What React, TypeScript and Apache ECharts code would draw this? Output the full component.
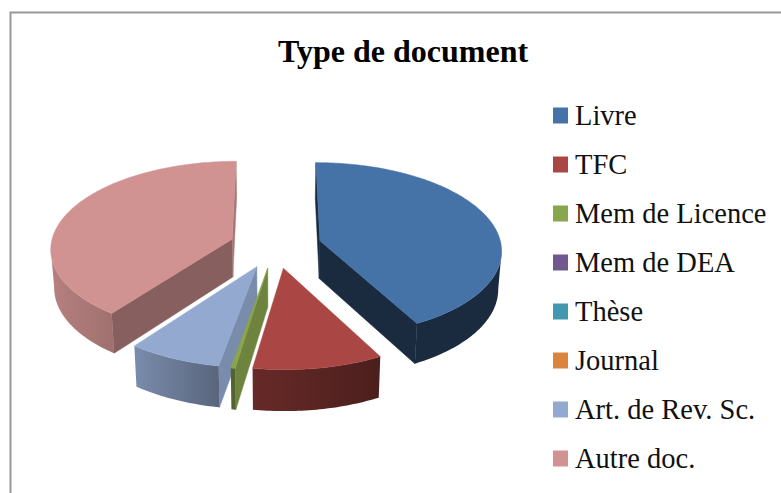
import React, { useEffect, useRef } from "react";
import * as echarts from "echarts";

const titleText = "Type de document";
const categories = ["Livre", "TFC", "Mem de Licence", "Mem de DEA", "Thèse", "Journal", "Art. de Rev. Sc.", "Autre doc."];
const values = [42.2, 10.25, 0.35, 0, 0, 0, 7.4, 39.8];
const colors = ["#4572A7", "#AA4643", "#89A54E", "#71588F", "#4198AF", "#DB843D", "#93A9CF", "#D19392"];
// brightness of the faces: outer wall left, outer wall right, start face, end face
const wallLeft = [0.38, 0.6, 0.6, 0.5, 0.5, 0.5, 0.83, 0.87];
const wallRight = [0.38, 0.44, 0.6, 0.5, 0.5, 0.5, 0.6, 0.76];
const startFace = [0.36, 0.4, 0.8, 0.5, 0.5, 0.5, 0.83, 0.645];
const endFace = [0.38, 0.4, 0.6, 0.5, 0.5, 0.5, 0.6, 0.8];

const CX = 275.5, CY = 246, R = 181.5, EXPLODE = 46, TILT = 0.478, DIST = 1844, DEPTH = 38, BOTTOM = 0.985;
const FONT = '"Liberation Serif", "Times New Roman", serif';

function shade(hex: string, k: number) {
  const n = parseInt(hex.slice(1), 16);
  const c = [(n >> 16) & 255, (n >> 8) & 255, n & 255].map((x) => Math.round(x * k));
  return `rgb(${c[0]},${c[1]},${c[2]})`;
}

const total = values.reduce((a, b) => a + b, 0);
let acc = 0;
const slices = values.map((v, i) => {
  const start = (acc / total) * 2 * Math.PI;
  acc += v;
  const end = (acc / total) * 2 * Math.PI;
  const bis = (start + end) / 2;
  return { i, start, end, ax: EXPLODE * Math.sin(bis), av: -EXPLODE * Math.cos(bis) };
});
const order = slices.slice().sort((a, b) => a.av - b.av).map((s) => s.i);

function project(u: number, v: number, bottom: boolean) {
  const f = 1 / (1 - v / DIST);
  return bottom
    ? [CX + u * f * BOTTOM, CY + TILT * v * f * BOTTOM + DEPTH * f]
    : [CX + u * f, CY + TILT * v * f];
}

function renderSlice(index: number) {
  const s = slices[index];
  if (s.end - s.start <= 0) return { type: "group", children: [] };
  const color = colors[index];
  const uv: number[][] = [];
  const steps = Math.max(2, Math.ceil(((s.end - s.start) * 180) / Math.PI));
  for (let k = 0; k <= steps; k++) {
    const t = s.start + ((s.end - s.start) * k) / steps;
    uv.push([s.ax + R * Math.sin(t), s.av - R * Math.cos(t)]);
  }
  const tops = uv.map((p) => project(p[0], p[1], false));
  const bots = uv.map((p) => project(p[0], p[1], true));
  const apexT = project(s.ax, s.av, false);
  const apexB = project(s.ax, s.av, true);
  const children: any[] = [];
  const poly = (points: number[][], fill: any) => ({
    type: "polygon",
    shape: { points },
    style: { fill, stroke: typeof fill === "string" ? fill : undefined, lineWidth: 0.5 },
  });
  // start radial face
  if (tops[0][0] < apexT[0]) children.push(poly([apexT, tops[0], bots[0], apexB], shade(color, startFace[index])));
  // end radial face
  if (apexT[0] < tops[steps][0]) children.push(poly([tops[steps], apexT, apexB, bots[steps]], shade(color, endFace[index])));
  // outer wall: the part whose top edge runs leftwards
  const first = tops.findIndex((p, k) => k < steps && tops[k + 1][0] < p[0]);
  if (first >= 0) {
    let last = first;
    while (last < steps && tops[last + 1][0] < tops[last][0]) last++;
    const pts = [...tops.slice(first, last + 1), ...bots.slice(first, last + 1).reverse()];
    children.push({
      type: "polygon",
      shape: { points: pts },
      style: {
        fill: new echarts.graphic.LinearGradient(0, 0, 1, 0, [
          { offset: 0, color: shade(color, wallLeft[index]) },
          { offset: 1, color: shade(color, wallRight[index]) },
        ]),
      },
    });
  }
  // top surface
  children.push(poly([apexT, ...tops], color));
  return { type: "group", children };
}

export default function App() {
  const ref = useRef<HTMLDivElement>(null);
  useEffect(() => {
    const chart = echarts.init(ref.current!, undefined, { renderer: "svg" });
    chart.setOption({
      animation: false,
      backgroundColor: "#ffffff",
      title: {
        text: titleText,
        left: 278,
        top: 35,
        padding: 0,
        textStyle: { fontFamily: FONT, fontSize: 32, fontWeight: "bold", color: "#000000" },
      },
      legend: {
        orient: "vertical",
        left: 553,
        top: 101,
        padding: 0,
        itemWidth: 15,
        itemHeight: 16,
        itemGap: 20,
        icon: "rect",
        selectedMode: false,
        data: categories,
        textStyle: { fontFamily: FONT, fontSize: 28.5, color: "#111111", padding: [0, 0, 0, 2] },
      },
      graphic: [
        {
          type: "rect",
          silent: true,
          shape: { x: 10.5, y: 12.5, width: 900, height: 600 },
          style: { fill: "none", stroke: "#979797", lineWidth: 2 },
        },
      ],
      series: categories.map((name, i) => ({
        type: "custom",
        name,
        coordinateSystem: "none",
        silent: true,
        z: 2 + order.indexOf(i),
        itemStyle: { color: colors[i] },
        data: [[values[i]]],
        renderItem: () => renderSlice(i),
      })),
    });
    return () => chart.dispose();
  }, []);
  return <div ref={ref} style={{ position: "absolute", left: 0, top: 0, width: 781, height: 493 }} />;
}
